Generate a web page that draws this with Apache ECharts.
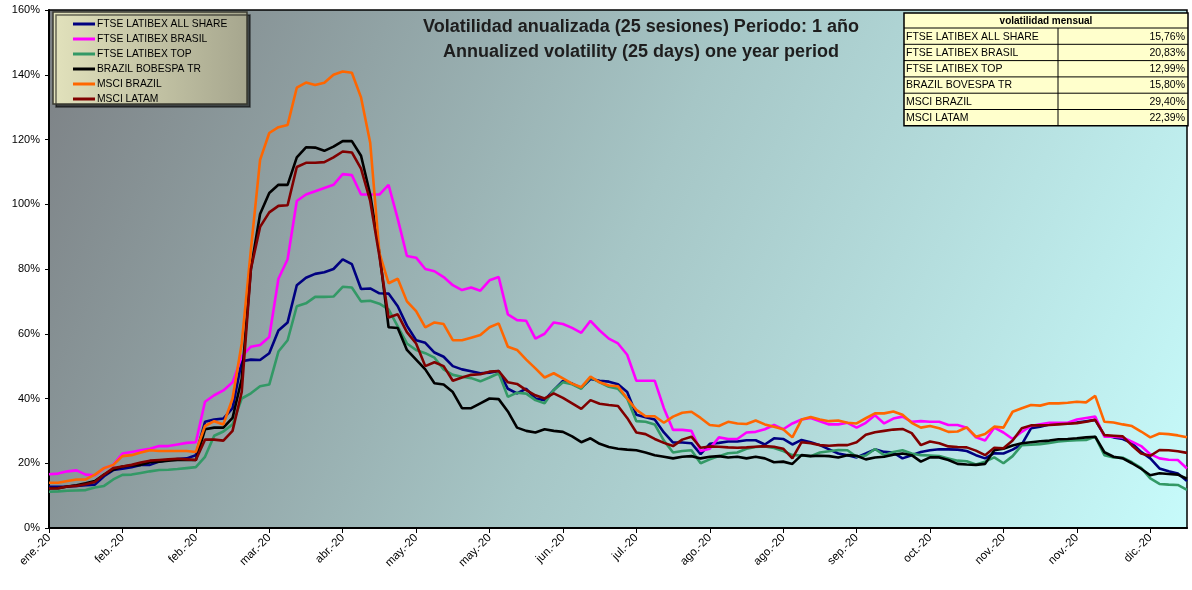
<!DOCTYPE html>
<html>
<head>
<meta charset="utf-8">
<script src="https://cdn.jsdelivr.net/npm/echarts@6/dist/echarts.min.js"></script>
<style>
  html, body { margin: 0; padding: 0; background: #fff; }
  #chart { width: 1192px; height: 590px; }
</style>
</head>
<body>
<div id="chart"></div>
<script>
// x tick labels, one every 16 sessions
const tickLabels = ['ene.-20', 'feb.-20', 'feb.-20', 'mar.-20', 'abr.-20', 'may.-20', 'may.-20', 'jun.-20',
  'jul.-20', 'ago.-20', 'ago.-20', 'sep.-20', 'oct.-20', 'nov.-20', 'nov.-20', 'dic.-20'];
const sessionsPerTick = 16;
const sessionStep = 2; // one value read every 2 sessions
const lastSession = 248;

const seriesNames = ['FTSE LATIBEX ALL SHARE', 'FTSE LATIBEX BRASIL', 'FTSE LATIBEX TOP',
  'BRAZIL BOBESPA TR', 'MSCI BRAZIL', 'MSCI LATAM'];
const seriesColors = ['#000080', '#ff00ff', '#339966', '#000000', '#ff6600', '#800000'];

// annualized volatility, %
const allShare = [12.7, 12.7, 12.8, 13, 13.2, 13.4, 16, 17.9, 18.3, 18.8, 19.5, 19.5, 20.5, 21, 21.3, 21.5, 22.5,
  32.8, 33.5, 33.8, 37, 51.5, 52, 51.9, 54, 61, 63.5, 75, 77.3, 78.5, 79, 80, 83, 81.5, 73.8, 74, 72.5, 72.4,
  68.5, 62.5, 58, 57.2, 54.2, 52.9, 50, 49, 48.4, 47.8, 48, 48.5, 43, 41.6, 43, 40, 39.5, 42.6, 45.4, 44.6,
  43.2, 46, 45.5, 45.2, 44.4, 42, 35, 34.2, 33.5, 29.5, 26.4, 26.4, 26.2, 22.8, 26, 26.3, 26.7, 26.7, 27.1,
  27.1, 25.8, 27.7, 27.5, 25.8, 27.2, 26.5, 25.6, 24.3, 23, 22.5, 21.8, 23, 24.3, 23.5, 23.3, 21.5, 22.5, 23.5,
  24, 24.3, 24.3, 24.2, 23.8, 22.5, 21.5, 23.1, 23, 24.2, 25.8, 30.8, 31.3, 32, 32.3, 32.3, 32.6, 33, 33.4,
  28.6, 28, 27.5, 26.2, 23.5, 21.5, 18.4, 17.5, 16.8, 14.5];
const brasil = [16.6, 16.8, 17.5, 17.8, 16.5, 16.3, 18.5, 19.5, 23, 23.5, 24, 24.5, 25.3, 25.3, 25.8, 26.3, 26.5,
  39, 41, 42.5, 45, 53, 56, 56.5, 59, 77, 83, 101, 103, 104, 105, 106, 109.3, 109, 103, 103, 103, 106, 95.5,
  84, 83.5, 80, 79.3, 77.5, 75, 73.5, 74.3, 73.3, 76.5, 77.5, 66, 64.2, 64, 58.5, 60, 63.5, 63, 61.8, 60.3,
  64, 61, 58.5, 57, 53.5, 45.5, 45.5, 45.5, 37, 30.3, 30.3, 30, 23.8, 24.5, 28, 27.5, 27.5, 29.5, 29.7, 30.5,
  31.8, 30.5, 32.3, 33.5, 34, 33, 32, 32, 32.5, 31, 32.5, 34.8, 32.3, 33.8, 34.4, 32.8, 33, 32.8, 32.8, 31.8,
  31.8, 31, 28, 27, 31, 29.5, 27.5, 29.7, 31.5, 32, 32.5, 32.5, 32.5, 33.5, 34, 34.4, 28.2, 28.2, 28, 26.7,
  25.3, 22.8, 21.5, 21.1, 21, 18.4];
const latibexTop = [11.2, 11.3, 11.5, 11.6, 11.7, 12.5, 13, 15, 16.4, 16.5, 17, 17.5, 17.9, 18, 18.2, 18.5, 18.8,
  22, 28.5, 29.8, 32, 40, 41.6, 43.8, 44.3, 54.5, 58, 68.5, 69.4, 71.4, 71.4, 71.5, 74.5, 74.3, 70, 70.2, 69.3,
  67.5, 62.3, 57, 55, 54, 52.6, 49, 47.3, 46.7, 46.3, 45.3, 46.5, 47.8, 40.5, 41.8, 41.5, 39.5, 38.5, 42.6, 45,
  44.4, 43, 46.5, 45, 43.6, 43, 40, 33, 32.8, 32, 27, 23.3, 23.8, 24, 20, 21.2, 22.2, 23.1, 23.3, 24.5, 25,
  25.2, 24.7, 23.8, 22.5, 22.4, 22.2, 23.3, 23.7, 24.1, 24, 22, 22.4, 24.4, 22.5, 23.5, 24, 23, 22.5, 22.4,
  22.2, 21.5, 20.8, 20.6, 19.6, 20.5, 21.8, 20, 22.2, 25.6, 25.7, 25.9, 26.3, 26.7, 27, 27.1, 27.2, 28.2,
  22.5, 21.8, 21.7, 20.3, 18.6, 15.3, 13.6, 13.4, 13.3, 11.8];
const bovespa = [12.3, 12.3, 12.8, 13.2, 13.8, 14.5, 16.5, 18, 19, 19.3, 19.5, 20.3, 20.5, 20.8, 21, 21, 21,
  30.5, 31, 31, 34, 46, 80, 97, 103.5, 106, 106, 114.5, 117.6, 117.5, 116.5, 117.8, 119.5, 119.5, 115, 103, 85,
  62, 61.8, 55, 52, 49, 44.7, 44.3, 42, 37, 37, 38.5, 40, 39.8, 36, 31, 30, 29.5, 30.5, 30, 29.7, 28.3, 26.5,
  27.7, 26, 25, 24.5, 24.2, 24, 23.3, 22.5, 22, 21.5, 22, 22.2, 21.5, 22, 22.2, 21.8, 22, 21.5, 22, 21.5,
  20.3, 20.5, 19.8, 22.5, 22.2, 22.3, 22.2, 21.8, 22.5, 22.3, 21.2, 21.8, 22, 22.6, 23, 22.5, 20.5, 21.8, 21.8,
  21, 19.8, 19.6, 19.5, 19.8, 24, 24.5, 25.5, 26.2, 26.5, 26.8, 27, 27.4, 27.5, 27.7, 28, 28.2, 23.4, 22,
  21.5, 20, 18.3, 16.3, 16.9, 16.7, 16.5, 15.2];
const msciBrazil = [14, 14, 14.5, 15, 15, 16.5, 18.5, 19.5, 22.2, 22.5, 23.3, 24, 23.8, 23.8, 23.8, 23.8, 23.5,
  31.5, 33, 32, 40, 57, 86, 113.7, 122, 123.8, 124.5, 136, 137.6, 136.8, 137.5, 140, 141, 140.6, 133, 119, 85,
  75.6, 77, 70, 67, 62, 63.5, 63, 58, 58, 58.8, 59.6, 62, 63.2, 56, 55, 52, 49.3, 46.5, 47.8, 46.2, 44.6,
  43.5, 46.8, 45, 44, 43.8, 40, 36.5, 34.5, 34.5, 32.5, 34.4, 35.6, 35.9, 34, 31.8, 31.5, 32.8, 32.3, 32.1,
  33.2, 32, 31.3, 30.5, 28, 33.5, 34.3, 33.5, 33, 33.2, 32.5, 32.3, 33.9, 35.4, 35.4, 36, 35, 32.5, 31, 31.5,
  30.8, 29.7, 29.8, 31.1, 28.2, 29, 31.3, 31, 35.9, 37, 38, 37.8, 38.5, 38.5, 38.7, 39, 38.8, 40.8, 32.8,
  32.6, 32, 31.5, 29.8, 28, 29.2, 29, 28.6, 28];
const msciLatam = [12.2, 12.3, 12.8, 13, 13.5, 14.2, 16.5, 18.5, 19, 19.5, 20.2, 20.8, 21, 21.2, 21.4, 21.2, 21,
  27.3, 27.3, 27, 30, 42, 80, 93, 97.5, 99.5, 99.7, 111.5, 112.8, 112.8, 113, 114.5, 116.3, 116, 111, 101, 84,
  65, 66, 60.5, 57, 50, 51.2, 50, 45.5, 46.5, 47.3, 47.5, 48.3, 48.5, 45, 44.5, 42.6, 41, 40, 41.6, 40.2,
  38.5, 36.8, 39.5, 38.4, 38, 37.7, 34, 29.5, 29, 27.5, 26.3, 25.3, 27.3, 28.2, 24.8, 25.2, 25.1, 24.9, 24.8,
  24.9, 25.1, 25.3, 25.1, 24.5, 21.5, 26.5, 26.2, 25.6, 25.4, 25.6, 25.6, 26.5, 28.8, 29.6, 30, 30.4, 30.6,
  29.3, 25.6, 26.7, 26.2, 25.2, 25, 24.9, 23.9, 22.5, 24.8, 24.6, 27, 30.8, 31.7, 31.7, 31.8, 32, 32.2, 32.4,
  32.8, 33.4, 28.7, 28.5, 28.3, 25.5, 23, 22.3, 24.1, 24, 23.7, 23.2];

// table "volatilidad mensual"
const tableNames = ['FTSE LATIBEX ALL SHARE', 'FTSE LATIBEX BRASIL', 'FTSE LATIBEX TOP',
  'BRAZIL BOVESPA TR', 'MSCI BRAZIL', 'MSCI LATAM'];
const monthlyVol = ['15,76%', '20,83%', '12,99%', '15,80%', '29,40%', '22,39%'];

const titleLines = ['Volatilidad anualizada (25 sesiones) Periodo: 1 año',
  'Annualized volatility (25 days) one year period'];

const allValues = [allShare, brasil, latibexTop, bovespa, msciBrazil, msciLatam];

const chart = echarts.init(document.getElementById('chart'));

const series = allValues.map((vals, k) => ({
  name: seriesNames[k],
  type: 'line',
  data: vals.map((v, i) => [i * sessionStep, v]),
  showSymbol: false,
  symbol: 'none',
  color: seriesColors[k],
  lineStyle: { width: 2.6, color: seriesColors[k] },
  animation: false
}));

// table graphic
const tbl = { left: 904, right: 1188, top: 13, headH: 15, rowH: 16.3, split: 1058 };
const tableEls = [];
const tblBottom = tbl.top + tbl.headH + tbl.rowH * tableNames.length;
tableEls.push({ type: 'rect', shape: { x: tbl.left, y: tbl.top, width: tbl.right - tbl.left, height: tblBottom - tbl.top },
  style: { fill: '#ffffcc', stroke: '#000', lineWidth: 1.5 } });
tableEls.push({ type: 'text', x: (tbl.left + tbl.right) / 2, y: tbl.top + tbl.headH / 2 + 0.5,
  style: { text: 'volatilidad mensual', font: 'bold 10px "Liberation Sans", Arial', fill: '#000', align: 'center', verticalAlign: 'middle' } });
tableEls.push({ type: 'line', shape: { x1: tbl.split, y1: tbl.top + tbl.headH, x2: tbl.split, y2: tblBottom }, style: { stroke: '#000', lineWidth: 1 } });
tableNames.forEach((name, i) => {
  const y0 = tbl.top + tbl.headH + i * tbl.rowH;
  tableEls.push({ type: 'line', shape: { x1: tbl.left, y1: y0, x2: tbl.right, y2: y0 }, style: { stroke: '#000', lineWidth: 1 } });
  tableEls.push({ type: 'text', x: tbl.left + 2, y: y0 + tbl.rowH / 2 + 0.5,
    style: { text: name, font: '10.5px "Liberation Sans", Arial', fill: '#000', align: 'left', verticalAlign: 'middle' } });
  tableEls.push({ type: 'text', x: tbl.right - 3, y: y0 + tbl.rowH / 2 + 0.5,
    style: { text: monthlyVol[i], font: '10.5px "Liberation Sans", Arial', fill: '#000', align: 'right', verticalAlign: 'middle' } });
});

const option = {
  animation: false,
  backgroundColor: '#ffffff',
  grid: {
    left: 49, top: 10, right: 5, bottom: 62,
    show: true,
    borderColor: '#000', borderWidth: 1.5,
    backgroundColor: new echarts.graphic.LinearGradient(0, 0, 1, 1, [
      { offset: 0, color: '#7c8084' },
      { offset: 0.5, color: '#a6c6c6' },
      { offset: 1, color: '#c7fbfb' }
    ])
  },
  xAxis: {
    type: 'value', min: 0, max: lastSession, interval: sessionsPerTick,
    axisLine: { show: true, lineStyle: { color: '#000', width: 2 } },
    axisTick: { show: true, length: 5, lineStyle: { color: '#000' } },
    splitLine: { show: false },
    axisLabel: {
      rotate: 45, margin: 8, fontSize: 11.5, color: '#000', fontFamily: 'Liberation Sans, Arial',
      showMaxLabel: false,
      formatter: v => (v % sessionsPerTick === 0 && tickLabels[v / sessionsPerTick]) || ''
    }
  },
  yAxis: {
    type: 'value', min: 0, max: 160, interval: 20,
    axisLine: { show: true, lineStyle: { color: '#000', width: 2 } },
    axisTick: { show: true, length: 4, lineStyle: { color: '#000' } },
    splitLine: { show: false },
    axisLabel: { fontSize: 11, color: '#000', margin: 9, fontFamily: 'Liberation Sans, Arial', formatter: '{value}%' }
  },
  legend: {
    orient: 'vertical', left: 68, top: 14, z: 10,
    icon: 'rect', itemWidth: 22, itemHeight: 3, itemGap: 5,
    textStyle: { fontSize: 10.3, color: '#000', fontFamily: 'Liberation Sans, Arial', padding: [0, 0, 0, -3] },
    data: seriesNames
  },
  graphic: [
    { type: 'rect', z: 5, shape: { x: 53, y: 12, width: 194, height: 92 },
      style: {
        fill: new echarts.graphic.LinearGradient(0, 0, 1, 0, [
          { offset: 0, color: '#e2e2bc' }, { offset: 1, color: '#a6a68e' }
        ]),
        stroke: '#3a3a30', lineWidth: 1.5,
        shadowColor: 'rgba(0,0,0,0.55)', shadowOffsetX: 3, shadowOffsetY: 3, shadowBlur: 0
      } },
    { type: 'text', z: 5, x: 641, y: 27, style: { text: titleLines[0], font: 'bold 18px "Liberation Sans", Arial', fill: '#1e1e1e', align: 'center', verticalAlign: 'middle' } },
    { type: 'text', z: 5, x: 641, y: 52, style: { text: titleLines[1], font: 'bold 18px "Liberation Sans", Arial', fill: '#1e1e1e', align: 'center', verticalAlign: 'middle' } },
    { type: 'group', z: 5, children: tableEls }
  ],
  series: series
};

chart.setOption(option);
</script>
</body>
</html>
